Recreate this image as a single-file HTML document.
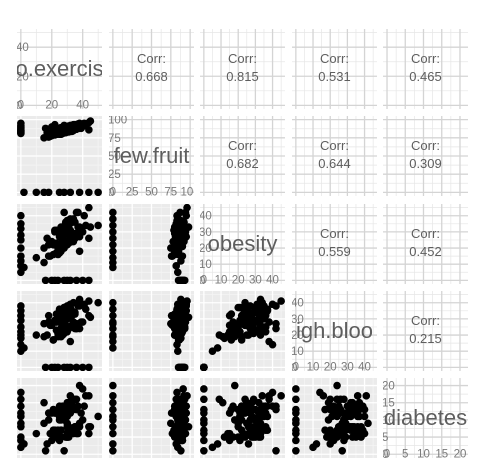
<!DOCTYPE html>
<html><head><meta charset="utf-8"><style>
html,body{margin:0;padding:0;background:#fff;}
svg{display:block;font-family:"Liberation Sans",sans-serif;}
</style></head><body>
<svg id="chart" width="478" height="476" viewBox="0 0 478 476"></svg>
<script>
// variable names
const varNames = ["no.exercise","few.fruit","obesity","high.blood","diabetes"];
const varLabels = ["o.exercis","few.fruit","obesity","igh.bloo","diabetes"];
const corrLabels = [[null,"0.668","0.815","0.531","0.465"],[null,null,"0.682","0.644","0.309"],[null,null,null,"0.559","0.452"],[null,null,null,null,"0.215"]];
const domains = [[-2.5,52.5],[-5,105],[-2.25,47.25],[-2.25,47.25],[-1.1,22.2]];
const ticks = [[0,20,40],[0,25,50,75,100],[0,10,20,30,40],[0,10,20,30,40],[0,5,10,15,20]];
const minorTicks = [[10,30,50],[12.5,37.5,62.5,87.5],[5,15,25,35,45],[5,15,25,35,45],[2.5,7.5,12.5,17.5]];
// data rows
const exercise = [28,31,25,35,22,30,27,33,38,20,24,29,32,26,36,41,18,23,34,30,27,25,31,37,29,21,33,28,26,39,44,19,30,32,24,35,27,22,28,34,40,31,25,29,36,23,33,26,30,38,17,28,32,35,27,24,30,42,21,29,34,26,31,37,23,28,33,30,25,36,27,32,29,45,15,31,26,34,28,30,
 0,0,0,0,0,0,0,0,0,0, 2,10,18,25,32,38,44,50,15,28, 16,20,24,28,32,36,40,44,22,30];
const fruit = [89,84,84,93,79,90,81,88,95,78,86,82,88,89,87,95,76,83,93,84,88,80,87,94,83,85,84,86,89,88,96,77,87,92,80,92,81,82,90,85,94,83,84,90,87,86,84,85,91,88,82,82,88,93,82,86,83,92,86,83,92,80,87,94,80,89,84,87,88,87,88,84,86,98,75,90,80,89,90,84,
 84,88,81,92,86,83,90,85,95,82, 0,0,0,0,0,0,0,0,0,0, 88,90,85,92,89,87,91,86,93,90];
const obesity = [33,23,27,29,31,24,27,36,27,24,22,35,25,32,27,40,15,31,27,29,32,17,33,33,35,16,37,20,28,32,45,15,29,36,16,36,25,30,21,38,30,32,21,36,29,23,36,18,32,33,26,21,37,26,29,20,37,34,22,33,24,29,28,42,17,33,24,31,21,42,22,31,33,33,20,28,33,26,33,22,
 5,12,20,28,35,40,15,25,32,9, 8,14,22,30,38,18,26,34,11,42, 0,0,0,0,0,0,0,0,0,0];
const highBlood = [23,37,28,24,29,38,25,25,38,26,19,24,37,28,24,39,32,23,25,34,30,20,25,40,30,17,35,37,24,28,41,26,22,25,33,33,20,29,37,28,28,35,29,22,27,33,32,19,33,42,20,22,35,34,21,21,36,36,17,33,40,24,24,38,28,21,26,36,28,24,32,39,26,31,27,32,20,26,35,30,
 10,18,25,32,38,14,22,29,35,20, 12,20,28,36,16,24,32,40,19,27, 0,0,0,0,0,0,0,0,0,0];
const diabetes = [13,6,10,16,7,5,12,14,8,12,5,11,15,7,6,14,12,6,14,6,11,14,8,6,12,13,7,13,5,12,17,6,5,12,13,8,13,5,11,16,10,5,11,14,8,12,7,10,15,9,3,12,14,8,13,5,11,17,7,5,13,13,7,14,5,11,16,8,4,13,14,7,13,8,9,15,7,6,12,14,
 2,5,8,11,14,18,4,9,12,16, 3,6,10,13,17,20,8,11,15,1, 1,4,7,10,13,16,19,6,12,9];
const series = [exercise, fruit, obesity, highBlood, diabetes];

const NS = "http://www.w3.org/2000/svg";
const svg = document.getElementById("chart");
const colX = [17,109,200,292,383], rowY = [29,116,204,291,378], PW = 85, PH = 80;
function mk(tag, attrs, parent){ const e=document.createElementNS(NS,tag); for(const k in attrs) e.setAttribute(k,attrs[k]); (parent||svg).appendChild(e); return e; }
function sx(v,c){ const d=domains[c]; return colX[c] + (v-d[0])/(d[1]-d[0])*PW; }
function sy(v,r){ const d=domains[r]; return rowY[r] + PH - (v-d[0])/(d[1]-d[0])*PH; }

const defs = mk("defs",{});
for(let r=0;r<5;r++){
  for(let c=0;c<5;c++){
    const cp = mk("clipPath",{id:"cp"+r+"_"+c},defs);
    mk("rect",{x:colX[c],y:rowY[r],width:PW,height:PH},cp);
    const g = mk("g",{"clip-path":"url(#cp"+r+"_"+c+")"});
    const lower = r>c;
    
    
    mk("rect",{x:colX[c],y:rowY[r],width:PW,height:PH,fill: lower?"#ebebeb":"#ffffff"},g);
    const major = lower?"#ffffff":"#d4d4d4", minor = lower?"#f5f5f5":"#e6e6e6";
    minorTicks[c].forEach(t=>mk("line",{x1:sx(t,c),x2:sx(t,c),y1:rowY[r],y2:rowY[r]+PH,stroke:minor,"stroke-width":0.7},g));
    minorTicks[r].forEach(t=>mk("line",{y1:sy(t,r),y2:sy(t,r),x1:colX[c],x2:colX[c]+PW,stroke:minor,"stroke-width":0.7},g));
    ticks[c].forEach(t=>mk("line",{x1:sx(t,c),x2:sx(t,c),y1:rowY[r],y2:rowY[r]+PH,stroke:major,"stroke-width":1.3},g));
    ticks[r].forEach(t=>mk("line",{y1:sy(t,r),y2:sy(t,r),x1:colX[c],x2:colX[c]+PW,stroke:major,"stroke-width":1.3},g));
    if(lower){
      const xs=series[c], ys=series[r];
      for(let i=0;i<xs.length;i++){
        const p=mk("circle",{cx:sx(xs[i],c),cy:sy(ys[i],r),r:3.8,fill:"#000"},g);
        
        
      }
    } else if(r===c){
      ticks[r].forEach(t=>{ const y=sy(t,r); if(y>rowY[r]-2){ const tx=mk("text",{x:colX[c]-1,y:y+4,"font-size":11.5,fill:"#7a7a7a"},g); tx.textContent=t; }});
      ticks[c].forEach(t=>{ const tx=mk("text",{x:sx(t,c),y:rowY[r]+PH-0.5,"font-size":11.5,fill:"#7a7a7a","text-anchor":"middle"},g); tx.textContent=t; });
      const lbl=mk("text",{x:colX[c]+PW/2,y:rowY[r]+PH/2+7,"font-size":22,fill:"#5e5e5e","text-anchor":"middle"},g);
      lbl.textContent=varLabels[r];
      
      
    } else {
      const t1=mk("text",{x:colX[c]+PW/2,y:rowY[r]+PH/2-6,"font-size":13,fill:"#5e5e5e","text-anchor":"middle"},g);
      t1.textContent="Corr:";
      const t2=mk("text",{x:colX[c]+PW/2,y:rowY[r]+PH/2+12,"font-size":13,fill:"#5e5e5e","text-anchor":"middle"},g);
      t2.textContent=corrLabels[r][c];
      
      
    }
  }
}
</script>
</body></html>
